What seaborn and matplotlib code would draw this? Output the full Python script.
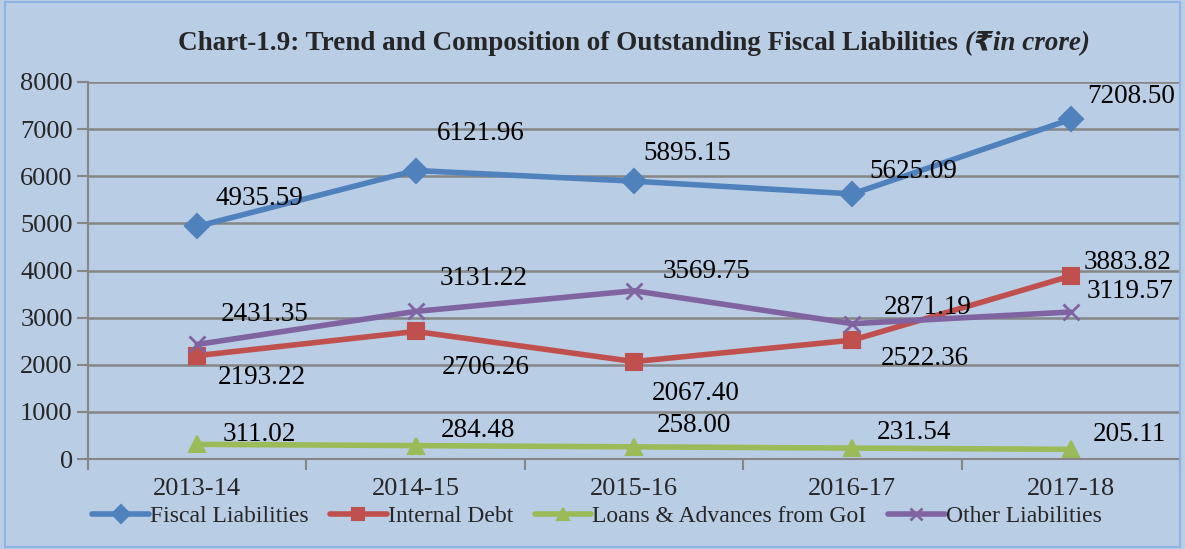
import pandas as pd
import matplotlib
matplotlib.use("Agg")
import matplotlib.pyplot as plt
import seaborn as sns

years = ["2013-14", "2014-15", "2015-16", "2016-17", "2017-18"]
fiscal_liabilities = [4935.59, 6121.96, 5895.15, 5625.09, 7208.50]
internal_debt = [2193.22, 2706.26, 2067.40, 2522.36, 3883.82]
loans_goi = [311.02, 284.48, 258.00, 231.54, 205.11]
other_liabilities = [2431.35, 3131.22, 3569.75, 2871.19, 3119.57]

series = {
    "Fiscal Liabilities": fiscal_liabilities,
    "Internal Debt": internal_debt,
    "Loans & Advances from GoI": loans_goi,
    "Other Liabilities": other_liabilities,
}

colors = {
    "Fiscal Liabilities": "#4F81BD",
    "Internal Debt": "#C0504D",
    "Loans & Advances from GoI": "#9BBB59",
    "Other Liabilities": "#8064A2",
}
markers = {
    "Fiscal Liabilities": "D",
    "Internal Debt": "s",
    "Loans & Advances from GoI": "^",
    "Other Liabilities": "x",
}

# label offsets in pixels (style only)
offsets = {
    "Fiscal Liabilities": [(62, 28), (65, 37), (53, 28), (61, 22), (60, 23)],
    "Internal Debt": [(65, -22), (70, -36), (62, -32), (72, -18), (57, 13)],
    "Loans & Advances from GoI": [(62, 10), (62, 15), (60, 21), (62, 16), (59, 15)],
    "Other Liabilities": [(67, 30), (68, 33), (72, 19), (75, 16), (59, 20)],
}

bg = "#B9CDE5"
sns.set_style("white")
plt.rcParams["font.family"] = ["Liberation Serif", "DejaVu Sans"]

fig = plt.figure(figsize=(11.85, 5.49), dpi=100, facecolor=bg)
ax = fig.add_axes([88 / 1185, 1 - 459 / 549, (1180 - 88) / 1185, (459 - 82) / 549])
ax.set_facecolor(bg)

for name, vals in series.items():
    d = pd.DataFrame({"year": years, "value": vals})
    sns.lineplot(
        data=d, x="year", y="value", color=colors[name], marker=markers[name],
        linewidth=4, markersize=12, markeredgewidth=1.5 if markers[name] != "x" else 2,
        markeredgecolor=colors[name], sort=False, ax=ax, label=name,
    )

for name, vals in series.items():
    for i, v in enumerate(vals):
        ax.annotate(f"{v:.2f}", (i, v), xytext=offsets[name][i],
                    textcoords="offset pixels", ha="center", va="center",
                    fontsize=19.5, color="black")

ax.set_xlim(-0.5, 4.5)
ax.set_ylim(0, 8000)
ax.set_yticks(range(0, 8001, 1000))
ax.yaxis.grid(True, color="#868686", linewidth=1.8)
ax.set_axisbelow(True)
for s in ["top", "right"]:
    ax.spines[s].set_visible(False)
for s in ["left", "bottom"]:
    ax.spines[s].set_color("#868686")
    ax.spines[s].set_linewidth(1.5)
ax.tick_params(axis="y", length=8, color="#868686", width=1.5, labelsize=19, pad=3, left=True)
ax.set_xticks([-0.5, 0.5, 1.5, 2.5, 3.5, 4.5], minor=True)
ax.tick_params(axis="x", which="major", length=0, labelsize=19, pad=14)
ax.tick_params(axis="x", which="minor", length=8, color="#868686", width=1.5, bottom=True)
ax.set_xlabel("")
ax.set_ylabel("")

handles, labels = ax.get_legend_handles_labels()
ax.legend(handles, labels, loc="center", bbox_to_anchor=(597 / 1185, 1 - 516 / 549),
          bbox_transform=fig.transFigure, ncol=4, frameon=False, fontsize=17,
          handlelength=2.4, handletextpad=0.05, columnspacing=0.9, markerscale=0.75)

# title: bold upright part followed by bold italic unit
t1 = fig.text(178 / 1185, 1 - 44 / 549,
              "Chart-1.9: Trend and Composition of Outstanding Fiscal Liabilities ",
              ha="left", va="center", fontsize=19.5, fontweight="bold")
fig.canvas.draw()
bb = t1.get_window_extent()
fig.text(bb.x1 / 1185, 1 - 44 / 549, "(\u20b9in crore)",
         ha="left", va="center", fontsize=19.5, fontweight="bold", fontstyle="italic")

border = plt.Rectangle((0.004, 0.004), 0.992, 0.992, transform=fig.transFigure,
                       fill=False, edgecolor="#8EB4E3", linewidth=1.5)
fig.patches.append(border)

fig.savefig("out.png", dpi=100, facecolor=bg)
